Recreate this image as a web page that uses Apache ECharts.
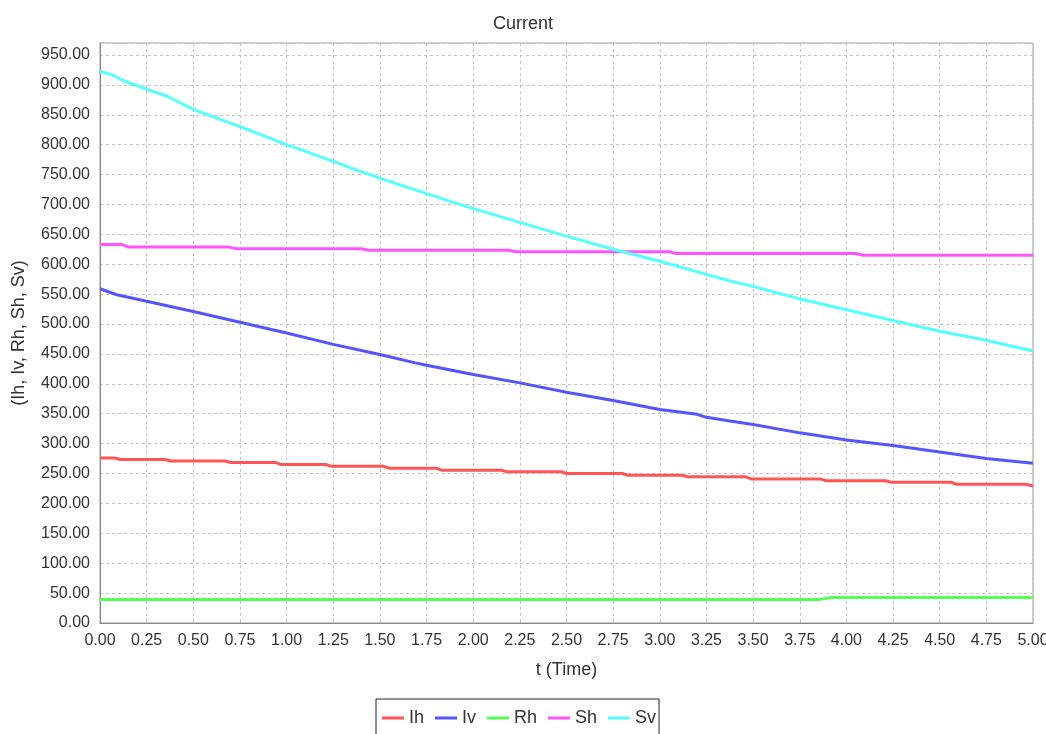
<!DOCTYPE html>
<html>
<head>
<meta charset="utf-8">
<title>Current</title>
<script src="https://cdn.jsdelivr.net/npm/echarts@6/dist/echarts.min.js"></script>
<style>
  html, body { margin: 0; padding: 0; background: #ffffff; }
  #chart { width: 1046px; height: 734px; }
</style>
</head>
<body>
<div id="chart"></div>
<script>
// Series names, in legend order
const seriesNames = ['Ih', 'Iv', 'Rh', 'Sh', 'Sv'];
const seriesColors = ['#ff5555', '#5555ff', '#55ff55', '#ff55ff', '#55ffff'];

// Samples as [t, value]
const ih = [
  [0, 276], [0.08, 276], [0.11, 273.5], [0.35, 273.5], [0.38, 271], [0.67, 271],
  [0.70, 268.5], [0.94, 268.5], [0.97, 265], [1.21, 265], [1.24, 262], [1.52, 262],
  [1.55, 259], [1.80, 259], [1.83, 255.6], [2.15, 255.6], [2.18, 253], [2.47, 253],
  [2.50, 250], [2.80, 250], [2.83, 247], [3.12, 247], [3.15, 244.5], [3.46, 244.5],
  [3.49, 241], [3.86, 241], [3.89, 238], [4.21, 238], [4.24, 235.5], [4.56, 235.5],
  [4.59, 232], [4.96, 232], [5.0, 229]
];
const iv = [
  [0, 559], [0.09, 549], [0.25, 538], [0.5, 521], [0.75, 503], [1.0, 485],
  [1.25, 466], [1.5, 449], [1.69, 435], [1.75, 431], [2.0, 415.5], [2.25, 401.6],
  [2.5, 386], [2.75, 372], [3.0, 357], [3.2, 349], [3.25, 344], [3.375, 338],
  [3.5, 332], [3.75, 318], [4.0, 306], [4.25, 297], [4.5, 286], [4.75, 275], [5.0, 267]
];
const rh = [
  [0, 39.5], [3.86, 39.5], [3.92, 42.5], [5.0, 42.5]
];
const sh = [
  [0, 633], [0.12, 633], [0.15, 629], [0.69, 629], [0.73, 626], [1.40, 626],
  [1.44, 623.5], [2.19, 623.5], [2.23, 621], [3.05, 621], [3.09, 618], [4.05, 618],
  [4.09, 615], [5.0, 615]
];
const sv = [
  [0, 923], [0.07, 916], [0.134, 906], [0.25, 893], [0.36, 881], [0.41, 873],
  [0.5, 859], [0.75, 830], [1.0, 800], [1.25, 772], [1.38, 757], [1.5, 744],
  [1.75, 718], [2.0, 693], [2.25, 670], [2.5, 647], [2.75, 625], [3.0, 605],
  [3.25, 583], [3.375, 572], [3.5, 563], [3.75, 542], [4.0, 524], [4.25, 506],
  [4.5, 488], [4.75, 473], [5.0, 455]
];
const seriesData = [ih, iv, rh, sh, sv];

// Axis settings
const xMin = 0, xMax = 5, xStep = 0.25;
const yMin = 0, yMax = 970, yStep = 50;

const FONT = "'Liberation Sans', Arial, sans-serif";
const chart = echarts.init(document.getElementById('chart'), null, { renderer: 'canvas' });

chart.setOption({
  animation: false,
  backgroundColor: '#ffffff',
  textStyle: { fontFamily: FONT, color: '#333' },
  title: {
    text: 'Current',
    left: 'center',
    top: 10,
    textStyle: { fontFamily: FONT, fontSize: 18, fontWeight: 'normal', color: '#333' }
  },
  legend: {
    data: seriesNames,
    left: 376,
    top: 699,
    orient: 'horizontal',
    icon: 'rect',
    itemWidth: 22,
    itemHeight: 3,
    itemGap: 11,
    padding: [10, 3, 14, 6],
    borderColor: '#222',
    borderWidth: 1,
    textStyle: { fontFamily: FONT, fontSize: 18, color: '#333' }
  },
  grid: {
    left: 100, right: 13, top: 43, bottom: 111,
    outerBoundsMode: 'none',
    containLabel: false,
    show: true, borderColor: '#999', borderWidth: 1, backgroundColor: '#ffffff'
  },
  xAxis: {
    type: 'value',
    min: xMin, max: xMax, interval: xStep,
    name: 't (Time)',
    nameLocation: 'middle',
    nameGap: 38,
    nameTextStyle: { fontFamily: FONT, fontSize: 18, color: '#333' },
    axisLine: { show: true, lineStyle: { color: '#888', width: 1 } },
    axisTick: { show: false },
    axisLabel: {
      fontFamily: FONT, fontSize: 16, color: '#333', margin: 10,
      formatter: v => v.toFixed(2)
    },
    splitLine: { show: true, lineStyle: { color: '#c4c4c4', type: [3, 3], width: 1 } }
  },
  yAxis: {
    type: 'value',
    min: yMin, max: yMax, interval: yStep,
    name: '(Ih, Iv, Rh, Sh, Sv)',
    nameLocation: 'middle',
    nameGap: 72,
    nameRotate: 90,
    nameTextStyle: { fontFamily: FONT, fontSize: 18, color: '#333' },
    axisLine: { show: true, lineStyle: { color: '#888', width: 1 } },
    axisTick: { show: false },
    axisLabel: {
      fontFamily: FONT, fontSize: 16, color: '#333', margin: 10,
      formatter: v => (v % yStep === 0 ? v.toFixed(2) : '')
    },
    splitLine: { show: true, lineStyle: { color: '#c4c4c4', type: [3, 3], width: 1 } }
  },
  series: seriesNames.map((name, i) => ({
    name: name,
    type: 'line',
    data: seriesData[i],
    showSymbol: false,
    symbol: 'none',
    color: seriesColors[i],
    lineStyle: { color: seriesColors[i], width: 3 },
    emphasis: { disabled: true }
  }))
});
</script>
</body>
</html>
